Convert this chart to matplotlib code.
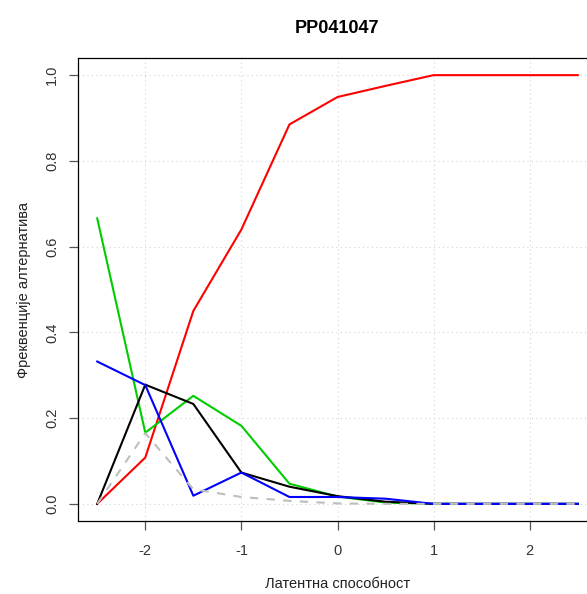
import matplotlib
matplotlib.use('Agg')
import matplotlib.pyplot as plt

plt.rcParams['font.family'] = ['Liberation Sans', 'DejaVu Sans']

# ability levels on the x axis
theta = [-2.5, -2.0, -1.5, -1.0, -0.5, 0.0, 0.5, 1.0, 1.5, 2.0, 2.5]

# alternative frequencies per option
freq_red = [0.0, 0.108, 0.45, 0.64, 0.885, 0.949, 0.975, 1.0, 1.0, 1.0, 1.0]
freq_green = [0.666, 0.166, 0.252, 0.182, 0.047, 0.017, 0.003, 0.0, 0.0, 0.0, 0.0]
freq_black = [0.0, 0.278, 0.233, 0.073, 0.040, 0.018, 0.005, 0.0, 0.0, 0.0, 0.0]
freq_blue = [0.332, 0.277, 0.019, 0.073, 0.016, 0.016, 0.012, 0.0, 0.0, 0.0, 0.0]
freq_gray = [0.0, 0.165, 0.034, 0.016, 0.007, 0.001, 0.0, 0.0, 0.0, 0.0, 0.0]

x_ticks = [-2, -1, 0, 1, 2]
y_ticks = [0.0, 0.2, 0.4, 0.6, 0.8, 1.0]

fig = plt.figure(figsize=(5.87, 5.94), dpi=100)
ax = fig.add_axes([78 / 587, 73 / 594, 519 / 587, 463 / 594])

lw = 1.5
ax.plot(theta, freq_red, color='#FF0000', lw=lw)
ax.plot(theta, freq_green, color='#00CD00', lw=lw)
ax.plot(theta, freq_black, color='black', lw=lw)
ax.plot(theta, freq_blue, color='#0000FF', lw=lw)
ax.plot(theta, freq_gray, color='#BEBEBE', lw=lw, linestyle=(0, (4, 4)))

ax.set_xlim(-2.7, 2.7)
ax.set_ylim(-0.04, 1.04)
ax.set_xticks(x_ticks)
ax.set_xticklabels([str(t) for t in x_ticks])
ax.set_yticks(y_ticks)
ax.set_yticklabels([f"{t:.1f}" for t in y_ticks], rotation=90, va='center')

ax.grid(True, linestyle=(0, (1, 3)), color='#D3D3D3', linewidth=0.8)
ax.set_axisbelow(True)

for s in ax.spines.values():
    s.set_linewidth(0.9)
ax.tick_params(direction='out', length=6.5, width=0.9, labelsize=10.5,
               color='#555555', labelcolor='#333333', pad=10)
ax.tick_params(axis='y', pad=7)

ax.set_title('PP041047', fontsize=13, fontweight='bold', pad=18)
ax.set_xlabel('Латентна способност', fontsize=10.5, labelpad=14, color='#222222')
ax.set_ylabel('Фреквенције алтернатива', fontsize=10.5, labelpad=10, color='#222222')

fig.savefig('out.png', dpi=100)
